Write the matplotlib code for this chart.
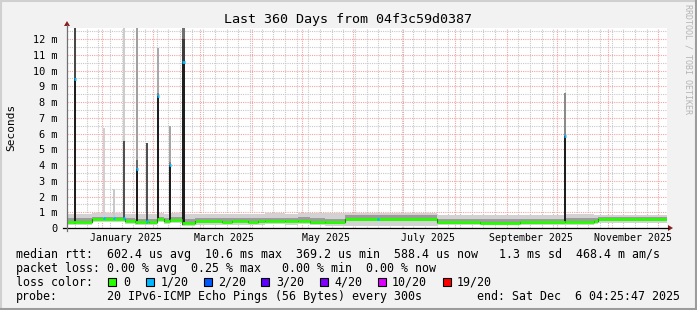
import datetime as dt
import numpy as np
import matplotlib
matplotlib.use("Agg")
import matplotlib.pyplot as plt
import matplotlib.dates as mdates
from matplotlib.lines import Line2D
from matplotlib.patches import Rectangle, Polygon

# ---------------- data ----------------
END = dt.datetime(2025, 12, 6, 4, 25, 47)
SPAN_DAYS = 360
START = END - dt.timedelta(days=SPAN_DAYS)

# baseline segments (start offset in days from START)
seg_start_day = [0, 15, 34.8, 40.8, 49.2, 54, 58.2, 61.8, 69, 76.8, 93, 99, 108.6, 114.6,
                 118.8, 130.8, 138.6, 145.8, 154.8, 166.8, 222, 247.8, 271.8, 298.8, 316.2, 318.6]
seg_median_ms = [0.38, 0.58, 0.44, 0.38, 0.35, 0.58, 0.44, 0.50, 0.32, 0.42, 0.40, 0.43, 0.39, 0.42,
                 0.45, 0.43, 0.46, 0.38, 0.36, 0.58, 0.36, 0.34, 0.36, 0.40, 0.47, 0.56]
seg_smoke_min_ms = [0.20, 0.38, 0.25, 0.20, 0.18, 0.38, 0.25, 0.30, 0.15, 0.22, 0.20, 0.22, 0.20, 0.22,
                    0.24, 0.22, 0.25, 0.16, 0.14, 0.13, 0.19, 0.18, 0.19, 0.20, 0.28, 0.30]
seg_smoke_lo_ms = [0.30, 0.50, 0.36, 0.30, 0.28, 0.50, 0.36, 0.42, 0.25, 0.34, 0.32, 0.35, 0.31, 0.34,
                   0.37, 0.35, 0.38, 0.28, 0.27, 0.45, 0.28, 0.26, 0.28, 0.32, 0.40, 0.46]
seg_smoke_hi_ms = [0.62, 0.72, 0.66, 0.60, 0.58, 0.72, 0.66, 0.70, 0.58, 0.64, 0.62, 0.65, 0.61, 0.64,
                   0.66, 0.64, 0.67, 0.62, 0.60, 0.80, 0.60, 0.58, 0.60, 0.62, 0.66, 0.70]
seg_smoke_max_ms = [0.92, 0.95, 0.92, 0.90, 0.88, 0.95, 0.92, 0.93, 0.88, 0.92, 0.90, 0.92, 0.90, 0.92,
                    0.94, 0.92, 0.95, 0.95, 0.93, 0.97, 0.85, 0.83, 0.85, 0.86, 0.85, 0.85]
seg_loss = [0] * len(seg_start_day)

# spikes (single consolidated bins with high latency)
spike_day = [4.8, 22.2, 28.2, 34.2, 41.8, 48.0, 54.8, 62.0, 69.8, 299.0]
spike_median_ms = [9.45, 0.62, 0.62, 0.62, 3.72, 0.44, 8.38, 4.02, 10.54, 5.84]
spike_dark_top_ms = [13.0, 0.62, 0.62, 5.50, 4.30, 5.37, 8.60, 4.20, 12.00, 5.90]
spike_top_ms = [13.0, 6.37, 2.47, 13.0, 13.0, 5.37, 11.45, 6.48, 13.0, 8.55]
spike_loss = [1, 1, 1, 1, 1, 1, 1, 1, 1, 1]

# extra loss marker without latency spike
lossdot_day = [186.6]
lossdot_median_ms = [0.58]
lossdot_loss = [1]

# legend
loss_labels = ["0", "1/20", "2/20", "3/20", "4/20", "10/20", "19/20"]
loss_colors = ["#26ff00", "#00b8ff", "#0059ff", "#5e00ff", "#7e00ff", "#dd00ff", "#ff0000"]

month_label_months = [(2025, 1), (2025, 3), (2025, 5), (2025, 7), (2025, 9), (2025, 11)]
ytick_values = list(range(0, 13))

# ---------------- styles ----------------
W, H = 697, 310
spike_light_color = ["#484848", "#d0d0d0", "#c8c8c8", "#cccccc", "#a0a0a0", "#505050",
                     "#a8a8a8", "#a4a4a4", "#707070", "#8a8a8a"]
spike_dark_color = ["#484848", "#d0d0d0", "#c8c8c8", "#505050", "#686868", "#505050",
                    "#808080", "#808080", "#3c3c3c", "#808080"]
spike_width_px = [2, 2, 2, 2, 2, 2, 2, 2, 2.5, 2]
PX_DAY = SPAN_DAYS / 600.0
MONO = "DejaVu Sans Mono"

def fx(x):
    return x / W

def fy(y):
    return 1 - y / H

def to_date(d):
    return START + dt.timedelta(days=float(d))

fig = plt.figure(figsize=(W / 100, H / 100), dpi=100)
fig.patch.set_facecolor("#f2f2f2")

ax = fig.add_axes([fx(67), fy(228), 600 / W, 200 / H])
ax.set_facecolor("white")
for s in ax.spines.values():
    s.set_visible(False)

edges_day = seg_start_day + [SPAN_DAYS]
edges = [to_date(d) for d in edges_day]

def stepvals(v):
    return list(v) + [v[-1]]

ax.fill_between(edges, stepvals(seg_smoke_min_ms), stepvals(seg_smoke_max_ms), step="post",
                color="#d2d2d2", lw=0, zorder=2)
ax.fill_between(edges, stepvals(seg_smoke_lo_ms), stepvals(seg_smoke_hi_ms), step="post",
                color="#9c9c9c", lw=0, zorder=2.1)

# spikes
seg_start_arr = np.array(seg_start_day)
for i, d in enumerate(spike_day):
    k = np.searchsorted(seg_start_arr, d, side="right") - 1
    base = seg_median_ms[k]
    x = to_date(d)
    w = spike_width_px[i] * PX_DAY
    ax.bar(x, spike_top_ms[i] - base, bottom=base, width=w, color=spike_light_color[i],
           lw=0, zorder=3)
    ax.bar(x, spike_dark_top_ms[i] - base, bottom=base, width=w, color=spike_dark_color[i],
           lw=0, zorder=3.1)
    ax.bar(x, spike_median_ms[i] - base + 0.1, bottom=base - 0.1, width=w, color="#1e1e1e",
           lw=0, zorder=3.2)

# median line
ax.step(edges, stepvals(seg_median_ms), where="post", color="#202020", lw=0.8, zorder=4)
ax.hlines(seg_median_ms, edges[:-1], edges[1:], colors=[loss_colors[l] for l in seg_loss],
          lw=2.0, zorder=5)
for i, d in enumerate(spike_day):
    w = max(spike_width_px[i], 2.0) * PX_DAY
    ax.hlines(spike_median_ms[i], to_date(d - w / 2), to_date(d + w / 2),
              colors=loss_colors[spike_loss[i]], lw=2.0, zorder=6)
for i, d in enumerate(lossdot_day):
    w = 2 * PX_DAY
    ax.hlines(lossdot_median_ms[i], to_date(d - w / 2), to_date(d + w / 2),
              colors=loss_colors[lossdot_loss[i]], lw=2.0, zorder=6)

ax.set_xlim(START, END)
ax.set_ylim(0, 12.7)

# grid
ax.xaxis.set_major_locator(mdates.MonthLocator())
ax.xaxis.set_minor_locator(mdates.WeekdayLocator(byweekday=mdates.MO))
ax.set_yticks(ytick_values)
ax.set_yticks([v + 0.5 for v in ytick_values], minor=True)
ax.grid(True, which="major", color="#f2a4a4", lw=0.8, linestyle=(0, (1, 1)), zorder=0)
ax.grid(True, which="minor", color="#c8c8c8", lw=0.8, linestyle=(0, (1, 1)), zorder=0)
ax.set_axisbelow(True)

# tick labels
ax.set_yticklabels(["0" if v == 0 else f"{v} m" for v in ytick_values],
                   fontfamily=MONO, fontsize=7.4)
ax.tick_params(axis="y", which="both", length=0, pad=7)
ax.tick_params(axis="x", which="both", length=0)
ax.set_xticklabels([])
for (yy, mm) in month_label_months:
    ax.text(dt.datetime(yy, mm, 15, 12), -0.62, dt.datetime(yy, mm, 1).strftime("%B %Y"),
            ha="center", va="center", fontfamily=MONO, fontsize=7.1, clip_on=False)

# axes lines and arrows
fig.add_artist(Line2D([fx(63), fx(668)], [fy(228), fy(228)], color="#000000", lw=0.9))
fig.add_artist(Line2D([fx(67), fx(67)], [fy(231), fy(25)], color="#707070", lw=0.9))
fig.add_artist(Polygon([[fx(668), fy(225)], [fx(668), fy(231)], [fx(673), fy(228)]],
                       closed=True, color="#8b1c1c", lw=0))
fig.add_artist(Polygon([[fx(64), fy(26)], [fx(70), fy(26)], [fx(67), fy(21)]],
                       closed=True, color="#8b1c1c", lw=0))

# texts
fig.text(fx(347.5), fy(19), "Last 360 Days from 04f3c59d0387", ha="center", va="center",
         fontfamily=MONO, fontsize=9.6)
fig.text(fx(11), fy(127), "Seconds", rotation=90, ha="center", va="center",
         fontfamily=MONO, fontsize=8.0)
fig.text(fx(688), fy(4), "RRDTOOL / TOBI OETIKER", rotation=-90, ha="center", va="top",
         fontfamily=MONO, fontsize=6, color="#b4b4b4")

L1 = "median rtt:  602.4 us avg  10.6 ms max  369.2 us min  588.4 us now   1.3 ms sd  468.4 m am/s"
L2 = "packet loss: 0.00 % avg  0.25 % max   0.00 % min  0.00 % now"
fig.text(fx(16), fy(254.3), L1, ha="left", va="center", fontfamily=MONO, fontsize=8.4)
fig.text(fx(16), fy(268.3), L2, ha="left", va="center", fontfamily=MONO, fontsize=8.4)
fig.text(fx(16), fy(282.3), "loss color:", ha="left", va="center", fontfamily=MONO, fontsize=8.4)
box_x = [108, 146, 203.5, 261, 320, 378, 443]
lab_x = [123.5, 161, 218, 276, 334, 392, 457]
for i, lab in enumerate(loss_labels):
    fig.add_artist(Rectangle((fx(box_x[i]), fy(286)), 8 / W, 8 / H, facecolor=loss_colors[i],
                             edgecolor="black", lw=0.8))
    fig.text(fx(lab_x[i]), fy(282.3), lab, ha="left", va="center", fontfamily=MONO, fontsize=8.4)
fig.text(fx(16), fy(296.3), "probe:", ha="left", va="center", fontfamily=MONO, fontsize=8.4)
fig.text(fx(107), fy(296.3), "20 IPv6-ICMP Echo Pings (56 Bytes) every 300s", ha="left",
         va="center", fontfamily=MONO, fontsize=8.4)
fig.text(fx(680), fy(296.3), "end: Sat Dec  6 04:25:47 2025", ha="right", va="center",
         fontfamily=MONO, fontsize=8.4)

# outer 3D border
fig.add_artist(Line2D([0, 1], [fy(0.5), fy(0.5)], color="#d0d0d0", lw=1.5))
fig.add_artist(Line2D([fx(0.5), fx(0.5)], [0, 1], color="#d0d0d0", lw=1.5))
fig.add_artist(Line2D([0, 1], [fy(309), fy(309)], color="#9c9c9c", lw=1.5))
fig.add_artist(Line2D([fx(696), fx(696)], [0, 1], color="#9c9c9c", lw=1.5))

fig.savefig("out.png", dpi=100, facecolor=fig.get_facecolor())
